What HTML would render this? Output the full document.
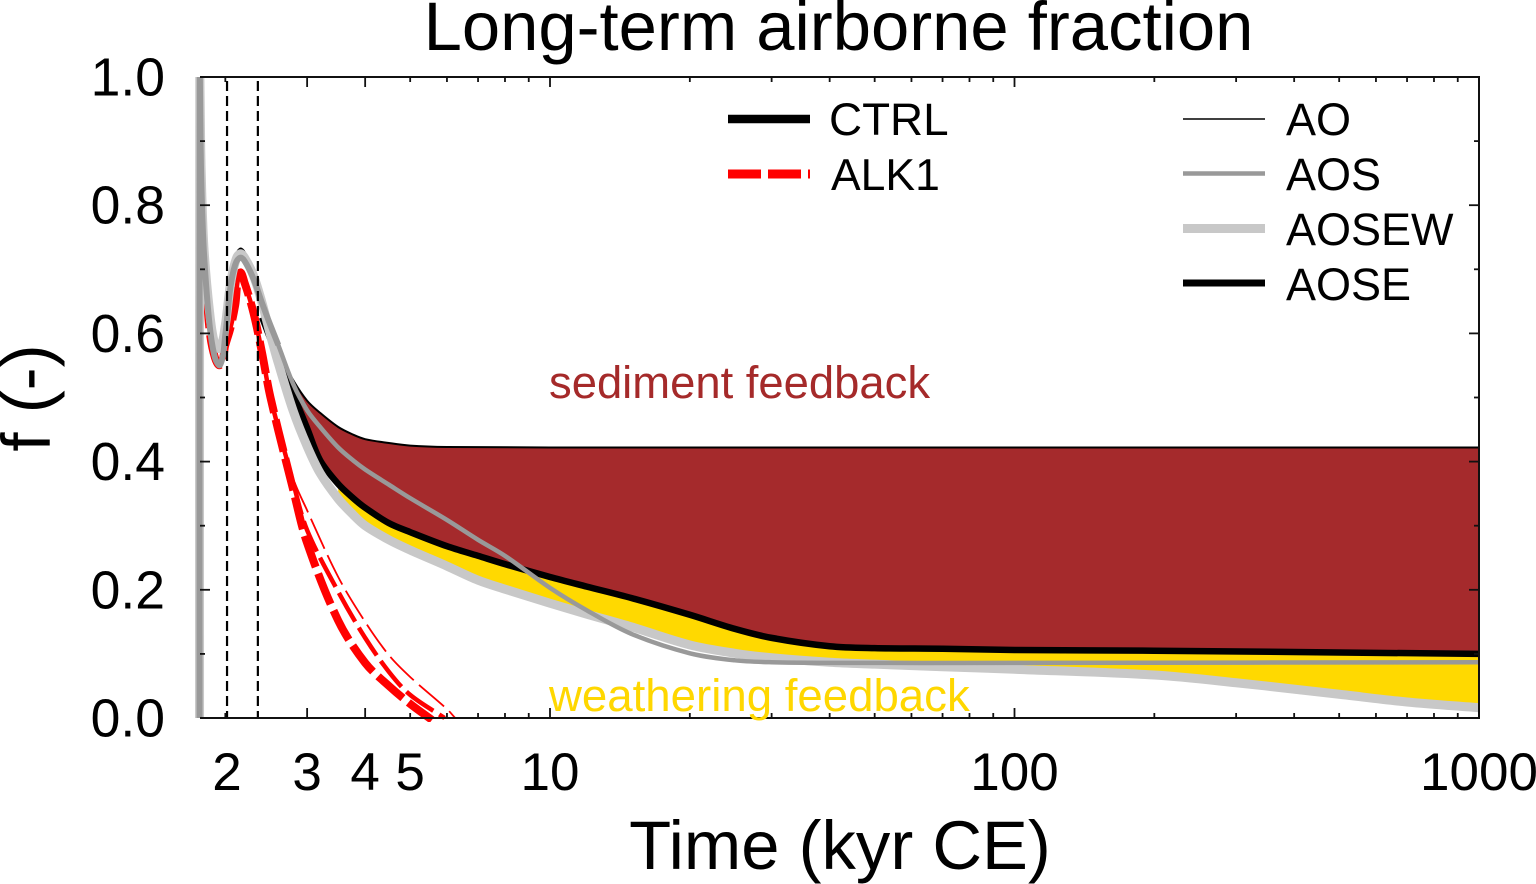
<!DOCTYPE html>
<html lang="en">
<head>
<meta charset="utf-8">
<title>Long-term airborne fraction</title>
<style>
html,body{margin:0;padding:0;background:#fff;}
svg{display:block;}
text{font-family:"Liberation Sans",Arial,sans-serif;fill:#000;}
</style>
</head>
<body>
<svg id="chart" width="1536" height="884" viewBox="0 0 1536 884" xmlns="http://www.w3.org/2000/svg">
  <defs><clipPath id="plot-clip"><rect x="190" y="77" width="1296" height="645"/></clipPath></defs>
  <g id="fills"></g>
  <g id="red" clip-path="url(#plot-clip)"></g>
  <g id="lines" clip-path="url(#plot-clip)"></g>
  <g id="guides"></g>
  <g id="axes"></g>
  <g id="ylabels"></g>
  <g id="xlabels"></g>

  <text x="838.5" y="50" font-size="68.8" text-anchor="middle">Long-term airborne fraction</text>
  <text x="840" y="869" font-size="68.8" text-anchor="middle">Time (kyr CE)</text>
  <text transform="translate(50,398) rotate(-90)" font-size="69" text-anchor="middle">f (-)</text>

  <text x="549" y="398" font-size="45.4" style="fill:#a52a2a">sediment feedback</text>
  <text x="549" y="711" font-size="45.6" style="fill:#ffd700">weathering feedback</text>

  <g>
    <line x1="728" x2="810" y1="119" y2="119" stroke="#000" stroke-width="8.5"/>
    <text x="829" y="135" font-size="45.8">CTRL</text>
    <line x1="728" x2="810" y1="174" y2="174" stroke="#f00" stroke-width="9" stroke-dasharray="33 7"/>
    <text x="831" y="190" font-size="44.5">ALK1</text>
  </g>
  <g>
    <line x1="1183" x2="1265" y1="119" y2="119" stroke="#000" stroke-width="1.5"/>
    <text x="1286" y="135" font-size="45">AO</text>
    <line x1="1183" x2="1265" y1="173.5" y2="173.5" stroke="#999" stroke-width="4.5"/>
    <text x="1286" y="190" font-size="45">AOS</text>
    <line x1="1183" x2="1265" y1="228.5" y2="228.5" stroke="#c8c8c8" stroke-width="9"/>
    <text x="1286" y="245" font-size="45">AOSEW</text>
    <line x1="1183" x2="1265" y1="283" y2="283" stroke="#000" stroke-width="7"/>
    <text x="1286" y="300" font-size="45">AOSE</text>
  </g>
</svg>
<script>
// ---- chart data (time in kyr CE, f dimensionless) ----
const aoTime = [1.76,1.762,1.77,1.78,1.8,1.85,1.9,1.95,2.0,2.05,2.1,2.15,2.2,2.3,2.4,2.5,2.6,2.8,3,3.2,3.5,3.77,4,4.5,5,6,10,100,1000];
const aoValue = [0,1,.886,.808,.722,.613,.562,.551,.598,.679,.718,.732,.727,.696,.652,.612,.571,.527,.495,.476,.454,.442,.435,.429,.425,.4228,.422,.422,.422];

const aosTime = [1.76,1.762,1.77,1.78,1.8,1.85,1.9,1.95,2.0,2.05,2.1,2.15,2.2,2.3,2.4,2.5,2.6,2.8,3,3.2,3.5,3.77,4,4.5,5,6,7,8,10,12,15,20,25,30,40,100,1000];
const aosValue = [0,1,.886,.808,.722,.613,.562,.551,.598,.671,.707,.718,.713,.685,.647,.613,.582,.521,.48,.454,.422,.4017,.3877,.364,.343,.309,.278,.253,.203,.168,.131,.101,.090,.087,.086,.086,.087];

const aoseTime = [2.4,2.6,2.8,3,3.2,3.5,3.77,4,4.5,5,6,7,8,10,12,15,20,25,30,40,50,70,100,200,1000];
const aoseValue = [.625,.56,.505,.452,.402,.365,.343,.328,.304,.29,.268,.253,.24,.22,.205,.187,.161,.139,.125,.112,.109,.108,.106,.105,.100];

const aosewTime = [1.76,1.762,1.77,1.78,1.8,1.85,1.9,1.95,2.0,2.05,2.1,2.15,2.2,2.3,2.4,2.5,2.6,2.8,3,3.2,3.5,3.77,4,4.5,5,6,7,8,10,12,15,20,25,30,40,50,70,100,200,300,500,700,1000];
const aosewValue = [0,1,.89,.815,.73,.633,.582,.577,.613,.675,.711,.724,.718,.69,.647,.598,.554,.479,.424,.382,.342,.317,.3,.278,.262,.237,.215,.201,.179,.162,.142,.114,.101,.094,.087,.084,.08,.076,.067,.055,.037,.025,.016];

const alkThickTime = [1.8,1.85,1.9,1.95,2.0,2.05,2.1,2.15,2.2,2.3,2.4,2.5,2.8,3,3.5,4,4.5,5,5.57];
const alkThickValue = [.722,.605,.562,.551,.582,.608,.644,.694,.679,.632,.569,.501,.356,.273,.152,.086,.05,.022,-.003];

const alkMediumTime = [2.02,2.05,2.1,2.15,2.2,2.3,2.4,2.5,2.8,3,3.5,4,4.5,5,5.93];
const alkMediumValue = [.6,.608,.644,.694,.679,.632,.569,.501,.367,.293,.197,.125,.072,.036,0];

const alkThinTime = [2.02,2.05,2.1,2.15,2.2,2.3,2.4,2.5,2.8,3,3.5,4,4.5,5,6,6.25];
const alkThinValue = [.6,.608,.644,.694,.679,.632,.569,.501,.374,.324,.22,.15,.098,.064,.014,0];

const referenceTimes = [2.017,2.35];
const yMajorTicks = [0,0.2,0.4,0.6,0.8,1.0];
const yMinorTicks = [0.1,0.3,0.5,0.7,0.9];
const xMajorTicks = [3,4,10,100,1000];
const xMinorTicks = [2,5,6,7,8,9,20,30,40,50,60,70,80,90,200,300,400,500,600,700,800,900];
const xTickLabels = ["2","3","4","5","10","100","1000"];
const xLabelTimes = [2.017,3,4,5,10,100,1000];

// ---- axis functions ----
const NS = "http://www.w3.org/2000/svg";
function xScale(t){ return 550 + 464.5 * Math.log10(t / 10); }
function yScale(f){ return 718 - 641 * f; }

function pts(times, values){
  return times.map(function(t,i){ return [xScale(t), yScale(values[i])]; });
}
function curve(p, move){
  let d = (move ? "M" : "L") + p[0][0].toFixed(2) + " " + p[0][1].toFixed(2);
  function tan(i){
    const a = p[Math.max(i-1,0)], b = p[Math.min(i+1,p.length-1)];
    const dx = b[0]-a[0], dy = b[1]-a[1], l = Math.hypot(dx,dy) || 1;
    return [dx/l, dy/l];
  }
  for(let i=0;i<p.length-1;i++){
    const s = Math.hypot(p[i+1][0]-p[i][0], p[i+1][1]-p[i][1]) / 3;
    const t0 = tan(i), t1 = tan(i+1);
    d += "C" + (p[i][0]+t0[0]*s).toFixed(2) + " " + (p[i][1]+t0[1]*s).toFixed(2) + " " +
         (p[i+1][0]-t1[0]*s).toFixed(2) + " " + (p[i+1][1]-t1[1]*s).toFixed(2) + " " +
         p[i+1][0].toFixed(2) + " " + p[i+1][1].toFixed(2);
  }
  return d;
}
function bandPath(topT, topV, botT, botV, start){
  const a = pts(topT, topV).filter(function(q){ return q[0] >= xScale(start); });
  const b = pts(botT, botV).filter(function(q){ return q[0] >= xScale(start); }).reverse();
  return curve(a,true) + curve(b,false) + "Z";
}
function make(tag, attrs, parent){
  const el = document.createElementNS(NS, tag);
  for(const k in attrs){ el.setAttribute(k, attrs[k]); }
  parent.appendChild(el);
  return el;
}

// ---- fills ----
const fills = document.getElementById("fills");
const yellowBand = make("path",{d:bandPath(aoseTime,aoseValue,aosewTime,aosewValue,3.5),fill:"#ffd900",stroke:"none"},fills);


const brownBand = make("path",{d:bandPath(aoTime,aoValue,aoseTime,aoseValue,2.8),fill:"#a52a2c",stroke:"none"},fills);



// ---- red ALK1 lines ----
const red = document.getElementById("red");
const alkThin = make("path",{d:curve(pts(alkThinTime,alkThinValue),true),fill:"none",stroke:"#f00","stroke-width":1.8,"stroke-dasharray":"33 7"},red);


const alkMedium = make("path",{d:curve(pts(alkMediumTime,alkMediumValue),true),fill:"none",stroke:"#f00","stroke-width":4.5,"stroke-dasharray":"33 7"},red);


const alkThick = make("path",{d:curve(pts(alkThickTime,alkThickValue),true),fill:"none",stroke:"#f00","stroke-width":8,"stroke-dasharray":"33 7"},red);



// ---- control lines ----
const lines = document.getElementById("lines");
const lineAo = make("path",{d:curve(pts(aoTime,aoValue),true),fill:"none",stroke:"#000","stroke-width":2},lines);


const lineAose = make("path",{d:curve(pts(aoseTime,aoseValue),true),fill:"none",stroke:"#000","stroke-width":6.5},lines);


const lineAosew = make("path",{d:curve(pts(aosewTime,aosewValue),true),fill:"none",stroke:"#c8c8c8","stroke-width":9},lines);


const lineAos = make("path",{d:curve(pts(aosTime,aosValue),true),fill:"none",stroke:"#999","stroke-width":4.5},lines);


const lineAosEarly = make("path",{d:curve(pts(aosTime.slice(0,17),aosValue.slice(0,17)),true),fill:"none",stroke:"#999","stroke-width":6},lines);



// ---- dashed reference lines ----
const guides = document.getElementById("guides");
referenceTimes.forEach(function(t){
  const g = make("line",{x1:xScale(t),x2:xScale(t),y1:81,y2:718,stroke:"#000","stroke-width":2.2,"stroke-dasharray":"10 5"},guides);
  
  
});

// ---- axes ----
const axes = document.getElementById("axes");
const frame = make("path",{d:"M200 77H1479V718H200",fill:"none",stroke:"#111","stroke-width":2},axes);


function xTick(t,len){
  const x = xScale(t);
  const b = make("line",{x1:x,x2:x,y1:718,y2:718-len,stroke:"#111","stroke-width":1.8},axes);
  
  
  const u = make("line",{x1:x,x2:x,y1:77,y2:77+len,stroke:"#111","stroke-width":1.8},axes);
  
  
}
function yTick(f,len){
  const y = yScale(f);
  const l = make("line",{x1:200,x2:200+len,y1:y,y2:y,stroke:"#111","stroke-width":1.8},axes);
  
  
  const r = make("line",{x1:1479,x2:1479-len,y1:y,y2:y,stroke:"#111","stroke-width":1.8},axes);
  
  
}
xMajorTicks.forEach(function(t){ xTick(t,10); });
xMinorTicks.forEach(function(t){ xTick(t,5); });
yMajorTicks.forEach(function(f){ yTick(f,10); });
yMinorTicks.forEach(function(f){ yTick(f,5); });

// ---- tick labels ----
const ylabels = document.getElementById("ylabels");
yMajorTicks.forEach(function(f){
  const t = make("text",{x:165,y:yScale(f)+18.5,"font-size":53.5,"text-anchor":"end"},ylabels);
  
  
  t.textContent = f.toFixed(1);
});
const xlabels = document.getElementById("xlabels");
xTickLabels.forEach(function(s,i){
  const t = make("text",{x:xScale(xLabelTimes[i]),y:790,"font-size":53,"text-anchor":"middle"},xlabels);
  
  
  t.textContent = s;
});
</script>
</body>
</html>
